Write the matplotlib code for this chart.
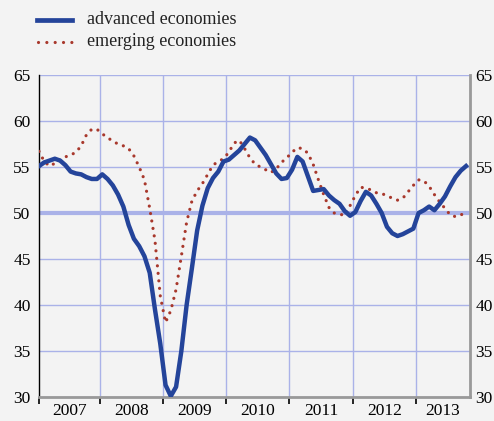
import numpy as np
import matplotlib

matplotlib.use("Agg")
import matplotlib.pyplot as plt
from matplotlib.lines import Line2D
from matplotlib.transforms import ScaledTranslation

# monthly index: 0 = Jan 2007 ... 81 = Oct 2013
advanced = [
    55.1, 55.5, 55.7, 55.9, 55.7, 55.2, 54.5, 54.3, 54.2, 53.9, 53.7, 53.7,
    54.2, 53.7, 53.0, 52.0, 50.7, 48.7, 47.2, 46.4, 45.3, 43.5, 39.5, 35.8,
    31.3, 30.1, 31.1, 35.0, 40.0, 44.0, 48.1, 50.8, 52.7, 53.8, 54.5, 55.6,
    55.8, 56.3, 56.8, 57.5, 58.2, 57.9, 57.1, 56.3, 55.3, 54.3, 53.7, 53.8,
    54.7, 56.1, 55.6, 54.0, 52.4, 52.5, 52.6, 51.9, 51.4, 51.0, 50.2, 49.7,
    50.1, 51.3, 52.3, 51.9, 51.0, 50.0, 48.5, 47.8, 47.5, 47.7, 48.0, 48.3,
    50.0, 50.3, 50.7, 50.3, 51.0, 51.8, 52.9, 53.9, 54.6, 55.1,
]
emerging = [
    56.7, 55.6, 55.1, 55.4, 55.8, 56.1, 56.3, 56.6, 57.3, 58.5, 59.1, 59.1,
    58.6, 58.2, 57.8, 57.5, 57.3, 57.0, 56.2, 55.0, 53.6, 50.5, 47.0, 41.0,
    38.1, 39.4, 41.7, 45.3, 49.0, 51.3, 52.4, 53.2, 54.2, 55.2, 55.6, 55.9,
    56.6, 57.6, 57.9, 57.0, 56.0, 55.3, 55.0, 54.7, 54.4, 54.8, 55.5, 56.0,
    56.6, 57.1, 57.0, 56.5, 55.3, 53.6, 52.0, 50.6, 50.0, 49.9, 49.7, 50.8,
    51.9, 52.8, 52.7, 52.5, 52.2, 52.1, 51.9, 51.6, 51.4, 51.6, 52.3, 53.0,
    53.6, 53.5, 52.9, 52.0, 51.2, 50.5, 49.8, 49.6, 49.8, 50.0,
]
years = ["2007", "2008", "2009", "2010", "2011", "2012", "2013"]
yticks = [30, 35, 40, 45, 50, 55, 60, 65]

BG = "#f3f3f3"
BLUE = "#24449a"
RED = "#a8382c"
GRID = "#aab2e8"
SERIF = ["Liberation Serif", "DejaVu Serif"]

months = np.arange(len(advanced))
bounds = [11.5 + 12 * i for i in range(6)]   # year boundaries
xmin, xmax = 0, 81.75
centers = [(a + b) / 2 for a, b in zip([xmin] + bounds, bounds + [xmax])]

fig = plt.figure(figsize=(4.94, 4.21), dpi=100)
fig.patch.set_facecolor(BG)
ax = fig.add_axes([39 / 494, 24 / 421, 431 / 494, 322 / 421])
ax.set_facecolor(BG)

# ---- grid ----
for v in yticks:
    ax.axhline(v, color=GRID, lw=3 if v == 50 else 1, zorder=1)
for b in bounds:
    ax.axvline(b, color=GRID, lw=1, zorder=1)

# ---- series ----
ax.plot(months, emerging, color=RED, lw=2.3,
        ls=(0, (0.01, 2.35)), dash_capstyle="round", zorder=3)
ax.plot(months, advanced, color=BLUE, lw=3.2, solid_joinstyle="round",
        zorder=4)

ax.set_xlim(xmin, xmax)
ax.set_ylim(30, 65)

# ---- y labels on both sides ----
ax.set_yticks(yticks)
ax.tick_params(axis="y", length=0, labelsize=12.5, pad=4,
               labelleft=True, labelright=True)
shift = ScaledTranslation(-2 / 72, 0, fig.dpi_scale_trans)
for t in ax.yaxis.get_major_ticks():
    t.label1.set_family(SERIF)
    t.label2.set_family(SERIF)
    t.label1.set_transform(t.label1.get_transform() + shift)

# ---- x: ticks at year boundaries, labels centred in each year ----
ax.set_xticks([xmin] + bounds)
ax.set_xticklabels([])
ax.set_xticks(centers, minor=True)
ax.set_xticklabels(years, minor=True, fontsize=12.5, family=SERIF)
ax.tick_params(axis="x", which="major", direction="out", length=5,
               width=1.2, color="black")
ax.tick_params(axis="x", which="minor", length=0, pad=4)

ax.spines["top"].set_visible(False)
ax.spines["left"].set_color("black")
ax.spines["left"].set_linewidth(1)
for side in ("right", "bottom"):
    ax.spines[side].set_color("#999999")
    ax.spines[side].set_linewidth(2)

# ---- legend, drawn by hand at the top left ----
fig.add_artist(Line2D([37 / 494, 72 / 494], [1 - 20 / 421, 1 - 20 / 421],
                      transform=fig.transFigure, color=BLUE, lw=3.4))
fig.add_artist(Line2D([38 / 494, 72 / 494], [1 - 42 / 421, 1 - 42 / 421],
                      transform=fig.transFigure, color=RED, lw=2.3,
                      ls=(0, (0.01, 2.6)), dash_capstyle="round"))
fig.text(87 / 494, 1 - 20 / 421, "advanced economies", fontsize=13,
         family=SERIF, va="center", ha="left", color="#222222")
fig.text(87 / 494, 1 - 42 / 421, "emerging economies", fontsize=13,
         family=SERIF, va="center", ha="left", color="#222222")

fig.savefig("out.png", dpi=100, facecolor=BG)
